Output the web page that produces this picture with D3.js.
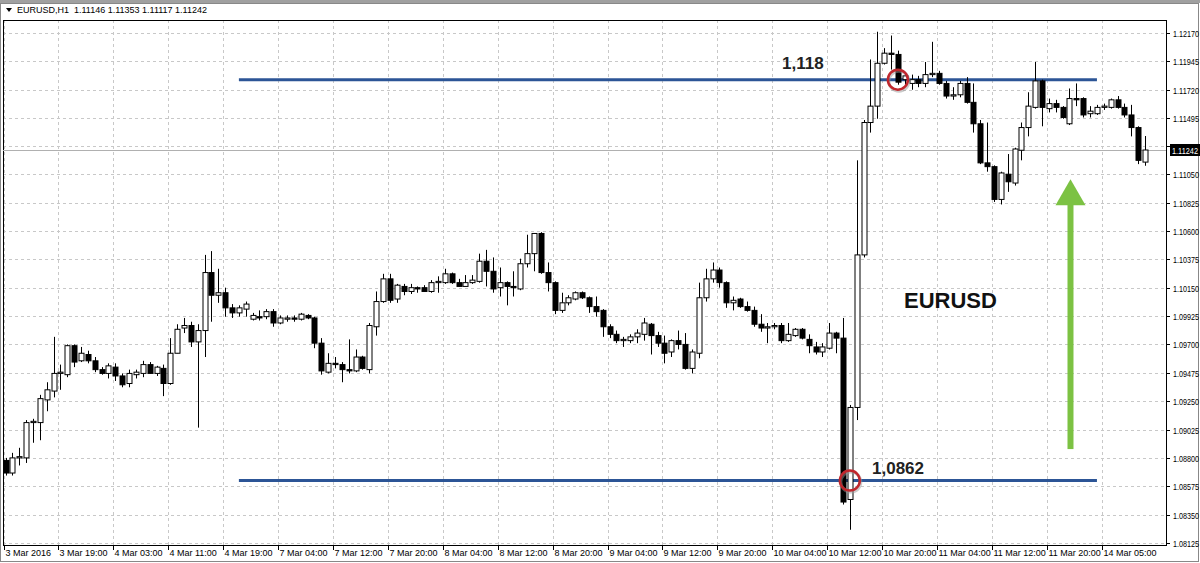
<!DOCTYPE html>
<html><head><meta charset="utf-8">
<script src="https://cdn.jsdelivr.net/npm/d3@7/dist/d3.min.js"></script>
<style>body{margin:0;background:#fff;overflow:hidden}svg{display:block}</style>
</head><body><svg id="c" width="1200" height="563"></svg>
<script>
const title = "EURUSD,H1  1.11146 1.11353 1.11117 1.11242";
// OHLC per hourly candle
const opens = [1.0878,1.0868,1.0880,1.0880,1.0908,1.0908,1.0926,1.0933,1.0947,1.0946,1.0969,1.0957,1.0962,1.0957,1.0950,1.0947,1.0952,1.0945,1.0939,1.0946,1.0947,1.0954,1.0947,1.0951,1.0939,1.0963,1.0983,1.0985,1.0972,1.0981,
1.1027,1.1009,1.1011,1.0999,1.0995,1.0998,1.0990,1.0992,1.0992,1.0996,1.0987,1.0990,1.0991,1.0990,1.0993,1.0991,1.0971,1.0948,1.0955,1.0954,1.0950,1.0949,1.0960,1.0950,1.0984,1.1004,1.1022,1.1006,1.1016,1.1012,
1.1015,1.1015,1.1012,1.1019,1.1019,1.1026,1.1019,1.1016,1.1019,1.1020,1.1036,1.1028,1.1015,1.1019,1.1016,1.1014,1.1034,1.1042,1.1058,1.1027,1.1019,1.0997,1.1003,1.1006,1.1011,1.1007,1.1000,1.0997,1.0984,1.0978,
1.0973,1.0973,1.0976,1.0978,1.0986,1.0977,1.0971,1.0964,1.0973,1.0970,1.0951,1.0963,1.1007,1.1022,1.1029,1.1019,1.1003,1.1006,1.1000,1.0997,1.0986,1.0983,1.0984,1.0985,1.0973,1.0977,1.0982,1.0974,1.0968,1.0964,
1.0967,1.0979,1.0975,1.0847,1.0920,1.1041,1.1146,1.1159,1.1193,1.1201,1.1200,1.1180,1.1177,1.1180,1.1177,1.1184,1.1185,1.1177,1.1167,1.1168,1.1177,1.1162,1.1145,1.1114,1.1111,1.1085,1.1105,1.1098,1.1124,1.1142,
1.1158,1.1179,1.1157,1.1161,1.1158,1.1145,1.1165,1.1165,1.1153,1.1153,1.1158,1.1158,1.1164,1.1158,1.1152,1.1142,1.11146];
const highs = [1.0880,1.0884,1.0888,1.0910,1.0911,1.0930,1.0940,1.0976,1.0954,1.0970,1.0970,1.0968,1.0965,1.0960,1.0952,1.0955,1.0955,1.0947,1.0950,1.0950,1.0957,1.0956,1.0953,1.0954,1.0975,1.0986,1.0991,1.0988,1.0986,1.1041,
1.1044,1.1030,1.1015,1.1002,1.1001,1.1004,1.0995,1.0997,1.0998,1.0998,1.0993,1.0993,1.0993,1.0995,1.0994,1.0992,1.0975,1.0963,1.0960,1.0956,1.0974,1.0966,1.0961,1.0987,1.1012,1.1026,1.1026,1.1018,1.1018,1.1018,
1.1016,1.1017,1.1021,1.1024,1.1030,1.1027,1.1022,1.1025,1.1025,1.1042,1.1045,1.1039,1.1031,1.1020,1.1028,1.1038,1.1057,1.1058,1.1059,1.1035,1.1020,1.1011,1.1009,1.1012,1.1012,1.1008,1.1008,1.0998,1.0986,1.0981,
1.0976,1.0978,1.0982,1.0991,1.0987,1.0980,1.0977,1.0974,1.0981,1.0979,1.0966,1.1019,1.1030,1.1035,1.1031,1.1020,1.1008,1.1007,1.1004,1.1000,1.0994,1.0987,1.0987,1.0987,1.0987,1.0983,1.0983,1.0978,1.0972,1.0971,
1.0987,1.0980,1.0991,1.0922,1.1116,1.1148,1.1196,1.1218,1.1205,1.1215,1.1203,1.1186,1.1184,1.1183,1.1194,1.1210,1.1187,1.1179,1.1174,1.1179,1.1182,1.1177,1.1148,1.1146,1.1112,1.1107,1.1121,1.1126,1.1146,1.1170,
1.1194,1.1180,1.1165,1.1164,1.1159,1.1173,1.1177,1.1166,1.1159,1.1160,1.1161,1.1165,1.1167,1.1161,1.1160,1.1143,1.11353];
const lows = [1.0866,1.0866,1.0874,1.0876,1.0892,1.0894,1.0917,1.0928,1.0934,1.0944,1.0952,1.0956,1.0955,1.0948,1.0946,1.0943,1.0941,1.0936,1.0936,1.0943,1.0944,1.0947,1.0945,1.0929,1.0938,1.0963,1.0979,1.0968,1.0904,1.0960,
1.0988,1.1003,1.0992,1.0991,1.0992,1.0992,1.0989,1.0989,1.0990,1.0984,1.0986,1.0988,1.0988,1.0989,1.0990,1.0967,1.0946,1.0947,1.0951,1.0940,1.0947,1.0948,1.0950,1.0947,1.0977,1.1003,1.1003,1.1003,1.1009,1.1010,
1.1011,1.1012,1.1011,1.1011,1.1018,1.1018,1.1016,1.1016,1.1018,1.1019,1.1016,1.1011,1.1008,1.1001,1.1008,1.1013,1.1031,1.1028,1.1026,1.1012,1.0994,1.0995,1.1001,1.1005,1.1006,1.0995,1.0992,1.0976,1.0975,1.0971,
1.0968,1.0971,1.0971,1.0973,1.0962,1.0968,1.0955,1.0960,1.0966,1.0950,1.0947,1.0959,1.1004,1.1019,1.1015,1.0999,1.0997,1.0999,1.0996,1.0984,1.0980,1.0971,1.0982,1.0971,1.0972,1.0976,1.0974,1.0963,1.0962,1.0960,
1.0966,1.0963,1.0843,1.0823,1.0910,1.1039,1.1138,1.1149,1.1192,1.1188,1.1176,1.1176,1.1172,1.1174,1.1174,1.1182,1.1176,1.1165,1.1164,1.1166,1.1161,1.1138,1.1113,1.1107,1.1083,1.1081,1.1091,1.1096,1.1116,1.1135,
1.1157,1.1143,1.1154,1.1154,1.1149,1.1144,1.1159,1.1150,1.1150,1.1152,1.1156,1.1157,1.1157,1.1150,1.1135,1.1113,1.11117];
const closes = [1.0868,1.0880,1.0881,1.0908,1.0909,1.0927,1.0934,1.0947,1.0948,1.0969,1.0956,1.0963,1.0957,1.0950,1.0947,1.0953,1.0945,1.0938,1.0947,1.0948,1.0954,1.0947,1.0952,1.0939,1.0963,1.0982,1.0985,1.0972,1.0981,1.1027,
1.1009,1.1011,1.0999,1.0995,1.0999,1.1002,1.0993,1.0991,1.0996,1.0987,1.0991,1.0991,1.0990,1.0994,1.0991,1.0971,1.0949,1.0955,1.0954,1.0950,1.0949,1.0960,1.0951,1.0985,1.1004,1.1022,1.1005,1.1017,1.1012,1.1015,
1.1014,1.1012,1.1019,1.1020,1.1026,1.1019,1.1016,1.1019,1.1021,1.1036,1.1028,1.1014,1.1019,1.1016,1.1015,1.1034,1.1042,1.1058,1.1027,1.1019,1.0997,1.1003,1.1007,1.1011,1.1007,1.1000,1.0996,1.0984,1.0978,1.0973,
1.0974,1.0976,1.0979,1.0987,1.0977,1.0971,1.0963,1.0973,1.0970,1.0951,1.0964,1.1007,1.1022,1.1029,1.1019,1.1003,1.1005,1.1000,1.0997,1.0986,1.0983,1.0984,1.0985,1.0973,1.0978,1.0982,1.0975,1.0969,1.0964,1.0968,
1.0979,1.0975,1.0845,1.0920,1.1041,1.1146,1.1159,1.1193,1.1201,1.1200,1.1178,1.1183,1.1180,1.1177,1.1184,1.1185,1.1177,1.1167,1.1168,1.1177,1.1162,1.1145,1.1114,1.1111,1.1085,1.1106,1.1099,1.1125,1.1142,1.1159,
1.1179,1.1158,1.1161,1.1158,1.1150,1.1165,1.1164,1.1152,1.1155,1.1158,1.1159,1.1164,1.1158,1.1152,1.1142,1.1116,1.11242];
const priceTicks = [1.08125,1.08350,1.08575,1.08800,1.09025,1.09250,1.09475,1.09700,1.09925,1.10150,1.10375,1.10600,1.10825,1.11050,1.11270,1.11495,1.11720,1.11945,1.12170];
const timeLabels = ["3 Mar 2016","3 Mar 19:00","4 Mar 03:00","4 Mar 11:00","4 Mar 19:00","7 Mar 04:00","7 Mar 12:00","7 Mar 20:00","8 Mar 04:00","8 Mar 12:00","8 Mar 20:00","9 Mar 04:00","9 Mar 12:00","9 Mar 20:00","10 Mar 04:00","10 Mar 12:00","10 Mar 20:00","11 Mar 04:00","11 Mar 12:00","11 Mar 20:00","14 Mar 05:00"];
const levels = [1.118, 1.0862];
const levelLabels = ["1,118","1,0862"];
const lastPrice = 1.11242;

const svg = d3.select("#c");
const L=3, R=1166, T=20, B=545;
const FONT = "Liberation Sans, Arial";
svg.append("rect").attr("x",0).attr("y",0).attr("width",1200).attr("height",563).attr("fill","#fff");
svg.append("rect").attr("x",0).attr("y",0).attr("width",1200).attr("height",3).attr("fill","#a0a0a0");
const idx = d3.range(closes.length);
const x = d3.scaleLinear().domain([0, closes.length-1]).range([5.5, 1145]);
const y = d3.scaleLinear().domain([1.08125,1.12170]).range([543,33]);

const grid = svg.append("g").attr("stroke","#c8c8c8").attr("stroke-dasharray","3,3").attr("stroke-width",1);
priceTicks.forEach(p=>grid.append("line").attr("x1",L).attr("x2",R).attr("y1",Math.round(y(p))+0.5).attr("y2",Math.round(y(p))+0.5));
timeLabels.forEach((t,i)=>{const xx=Math.round(x(i*8)-2)+0.5; grid.append("line").attr("x1",xx).attr("x2",xx).attr("y1",T).attr("y2",B);});

svg.append("rect").attr("x",L+0.5).attr("y",T+0.5).attr("width",R-L).attr("height",B-T).attr("fill","none").attr("stroke","#000");
svg.append("rect").attr("x",0.5).attr("y",3.5).attr("width",1198).attr("height",558).attr("fill","none").attr("stroke","#888");

svg.append("line").attr("x1",L).attr("x2",R).attr("y1",Math.round(y(lastPrice))+0.5).attr("y2",Math.round(y(lastPrice))+0.5).attr("stroke","#b0b0b0");

levels.forEach(lv=>svg.append("line").attr("x1",x(34)).attr("x2",x(159)).attr("y1",y(lv)).attr("y2",y(lv)).attr("stroke","#2c5596").attr("stroke-width",3));

const cg = svg.append("g");
idx.forEach(i=>{
  const xx = Math.round(x(i))+0.5;
  cg.append("line").attr("x1",xx).attr("x2",xx).attr("y1",y(highs[i])).attr("y2",y(lows[i])).attr("stroke","#000");
  const top=y(Math.max(opens[i],closes[i])), bot=y(Math.min(opens[i],closes[i]));
  const bull = closes[i]>=opens[i];
  cg.append("rect").attr("x",xx-2.5).attr("y",top).attr("width",5).attr("height",Math.max(bot-top,1))
    .attr("fill",bull?"#fff":"#000").attr("stroke","#000").attr("stroke-width",1);
});

[[130,levels[0]],[123,levels[1]]].forEach(([i,p])=>{
  svg.append("circle").attr("cx",x(i)+1).attr("cy",y(p)+1.5).attr("r",10).attr("fill","none").attr("stroke","#999").attr("stroke-opacity",0.5).attr("stroke-width",3);
  svg.append("circle").attr("cx",x(i)).attr("cy",y(p)).attr("r",10).attr("fill","none").attr("stroke","#c0272d").attr("stroke-width",2.5);
});
svg.append("text").attr("x",782).attr("y",y(levels[0])-11).text(levelLabels[0]).attr("font-family",FONT).attr("font-weight","bold").attr("font-size",17).attr("fill","#222");
svg.append("text").attr("x",872).attr("y",y(levels[1])-7).text(levelLabels[1]).attr("font-family",FONT).attr("font-weight","bold").attr("font-size",17).attr("fill","#222");
svg.append("text").attr("x",904).attr("y",308).text("EURUSD").attr("font-family",FONT).attr("font-weight","bold").attr("font-size",22).attr("fill","#111");

const ax = x(155)+1, ay1=y(1.0887), ay2=y(1.1101);
svg.append("rect").attr("x",ax-3).attr("y",ay2+22).attr("width",6).attr("height",ay1-ay2-22).attr("fill","#7cc243");
svg.append("path").attr("d",`M${ax-15},${ay2+26} L${ax},${ay2} L${ax+15},${ay2+26} Z`).attr("fill","#7cc243");

const pa = svg.append("g").attr("font-family",FONT).attr("font-size",8.5).attr("fill","#000");
priceTicks.forEach(p=>{
  const yy=Math.round(y(p))+0.5;
  pa.append("line").attr("x1",R).attr("x2",R+4).attr("y1",yy).attr("y2",yy).attr("stroke","#000");
  pa.append("text").attr("x",R+7).attr("y",yy+3).text(p.toFixed(5)).attr("textLength",26).attr("lengthAdjust","spacingAndGlyphs");
});
const ly=Math.round(y(lastPrice));
svg.append("rect").attr("x",R+4).attr("y",ly-6).attr("width",30).attr("height",12).attr("fill","#000");
svg.append("text").attr("x",R+6).attr("y",ly+3.5).text(lastPrice.toFixed(5)).attr("font-family",FONT).attr("font-size",8.5).attr("fill","#fff").attr("textLength",26).attr("lengthAdjust","spacingAndGlyphs");

const ta = svg.append("g").attr("font-family",FONT).attr("font-size",9).attr("fill","#000");
timeLabels.forEach((t,i)=>{
  const xx=Math.round(x(i*8)-2)+0.5;
  ta.append("line").attr("x1",xx).attr("x2",xx).attr("y1",B).attr("y2",B+5).attr("stroke","#000");
  ta.append("text").attr("x",xx+1).attr("y",B+11).text(t);
});

svg.append("path").attr("d","M6,8 L12,8 L9,12 Z").attr("fill","#000");
svg.append("text").attr("x",17).attr("y",13).text(title).attr("font-family",FONT).attr("font-size",9).attr("fill","#000").style("white-space","pre");
</script></body></html>
